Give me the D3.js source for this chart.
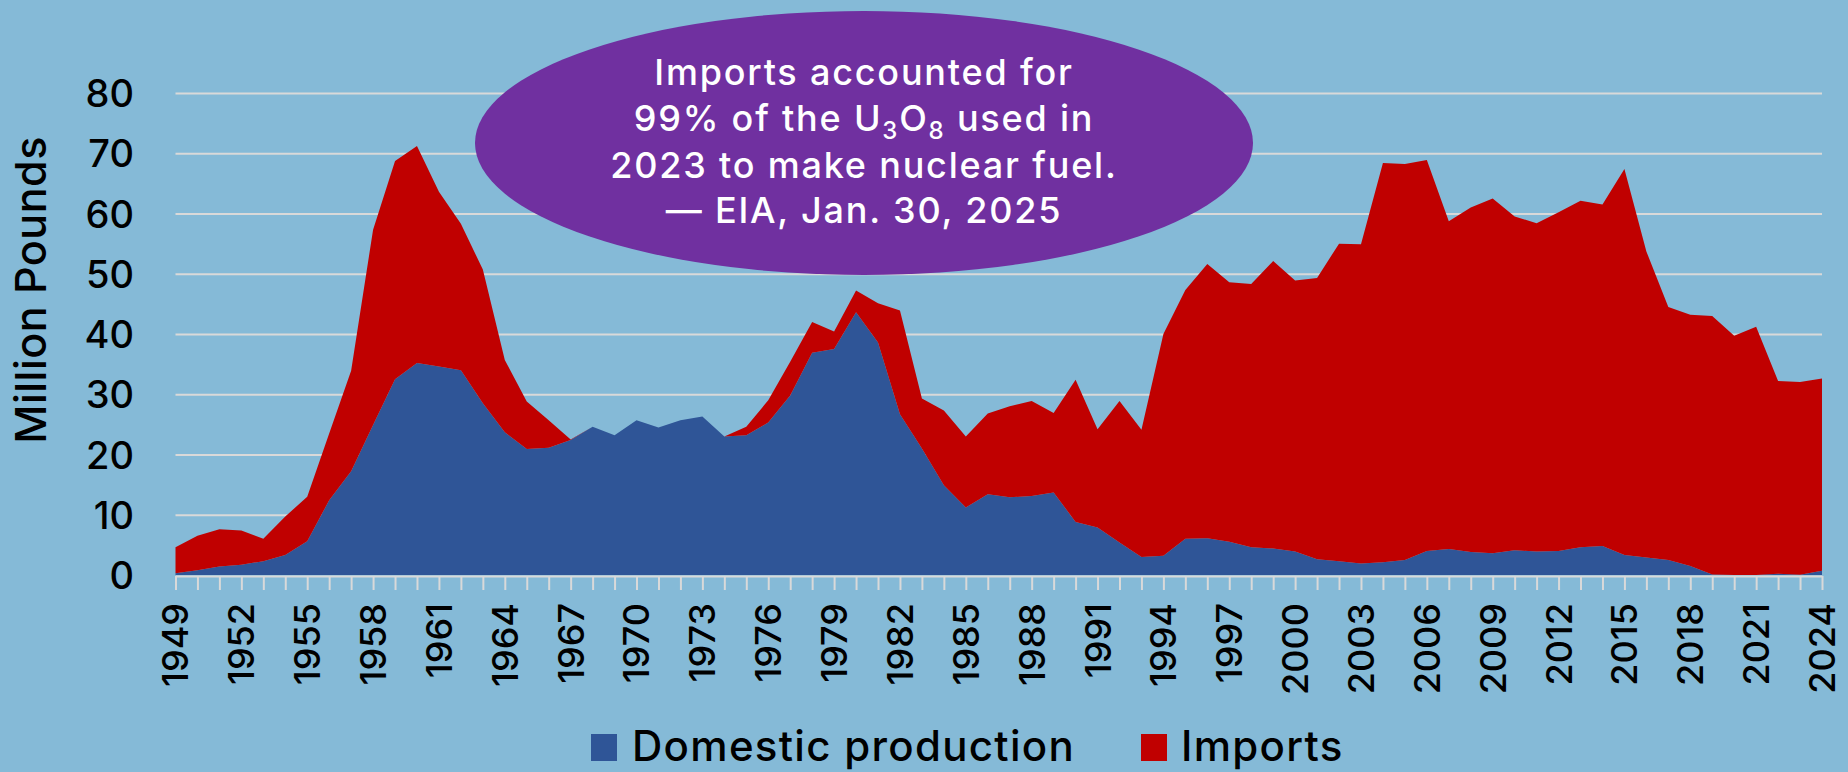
<!DOCTYPE html>
<html>
<head>
<meta charset="utf-8">
<script src="https://cdn.jsdelivr.net/npm/d3@7"></script>
<style>
  html, body { margin: 0; padding: 0; background: #85BAD7; }
  svg { display: block; }
</style>
</head>
<body>
<svg id="chart" width="1848" height="772"></svg>
<script>
// ---- Data (million pounds U3O8) ----
const years = d3.range(1949, 2025);
const domestic = [
  0.3, 0.8, 1.4, 1.7, 2.3, 3.3, 5.6, 12.4, 17.2, 24.9,
  32.5, 35.2, 34.6, 34.0, 28.5, 23.7, 20.9, 21.1, 22.4, 24.6,
  23.2, 25.7, 24.5, 25.7, 26.3, 23.0, 23.2, 25.3, 29.8, 36.9,
  37.5, 43.6, 38.6, 26.7, 21.0, 14.9, 11.2, 13.4, 12.9, 13.1,
  13.7, 8.8, 7.9, 5.4, 3.0, 3.2, 6.0, 6.1, 5.5, 4.6,
  4.4, 3.9, 2.6, 2.3, 1.9, 2.1, 2.5, 4.0, 4.3, 3.8,
  3.6, 4.1, 3.9, 4.0, 4.6, 4.8, 3.3, 2.9, 2.5, 1.5,
  0.1, 0.0, 0.0, 0.2, 0.05, 0.7
];
const imports = [
  4.3, 5.7, 6.2, 5.7, 3.7, 6.4, 7.4, 11.1, 16.7, 32.4,
  36.2, 36.0, 29.0, 24.3, 22.2, 12.0, 7.9, 4.6, 0.1, 0.0,
  0.0, 0.0, 0.0, 0.0, 0.0, 0.0, 1.4, 3.7, 5.6, 5.1,
  2.9, 3.6, 6.5, 17.2, 8.3, 12.4, 11.8, 13.4, 15.1, 15.8,
  13.2, 23.6, 16.3, 23.5, 21.1, 36.8, 41.3, 45.5, 43.1, 43.7,
  47.7, 45.0, 46.7, 52.7, 53.0, 66.3, 65.7, 64.9, 54.4, 57.2,
  58.9, 55.4, 54.5, 56.2, 57.5, 56.7, 64.1, 50.8, 42.0, 41.7,
  42.9, 39.7, 41.2, 32.0, 32.0, 31.9
];
const seriesNames = ["Domestic production", "Imports"];
const seriesColors = ["#2F5597", "#C00000"];
const yTicks = [0, 10, 20, 30, 40, 50, 60, 70, 80];
const xLabelYears = d3.range(1949, 2025, 3);
const yTitle = "Million Pounds";
const calloutLines = [
  [{t: "Imports accounted for"}],
  [{t: "99% of the U"}, {t: "3", sub: true}, {t: "O"}, {t: "8", sub: true}, {t: " used in"}],
  [{t: "2023 to make nuclear fuel."}],
  [{t: "\u2014 EIA, Jan. 30, 2025"}]
];

// ---- Layout ----
const FONT = "Inter, 'Open Sans', sans-serif";
const plot = {left: 175.5, right: 1822, top: 93, bottom: 575};
const svg = d3.select("#chart");
svg.append("rect").attr("width", 1848).attr("height", 772).attr("fill", "#85BAD7");

const x = d3.scalePoint().domain(years).range([plot.left, plot.right]);
const y = d3.scaleLinear().domain([0, 80]).range([plot.bottom, plot.top]);

// gridlines
svg.append("g")
  .attr("transform", `translate(${plot.left},0)`)
  .call(d3.axisLeft(y).tickValues(yTicks.filter(v => v > 0)).tickSize(-(plot.right - plot.left)).tickFormat(""))
  .call(g => g.select(".domain").remove())
  .call(g => g.selectAll("line").attr("stroke", "#D9D9D9").attr("stroke-width", 2));

// stacked areas
const table = years.map((yr, i) => ({year: yr, domestic: domestic[i], imports: imports[i]}));
const stack = d3.stack().keys(["domestic", "imports"]);
const layers = stack(table);
const area = d3.area()
  .x(d => x(d.data.year))
  .y0(d => y(d[0]))
  .y1(d => y(d[1]));
svg.append("g").selectAll("path")
  .data(layers)
  .join("path")
  .attr("d", area)
  .attr("fill", (d, i) => seriesColors[i]);

// x axis (ticks at every year)
const xAxisG = svg.append("g")
  .attr("transform", `translate(0,${plot.bottom + 1})`)
  .call(d3.axisBottom(x).tickValues(years).tickSize(14).tickSizeOuter(0).tickFormat(""));
xAxisG.select(".domain").attr("stroke", "#D9D9D9").attr("stroke-width", 2);
xAxisG.selectAll(".tick line").attr("stroke", "#D9D9D9").attr("stroke-width", 2);

// x labels, rotated
svg.append("g").selectAll("text")
  .data(xLabelYears)
  .join("text")
  .attr("transform", d => `translate(${x(d)},603) rotate(-90)`)
  .attr("text-anchor", "end")
  .attr("dy", "0.36em")
  .attr("font-family", FONT)
  .attr("font-weight", 500)
  .attr("font-size", 36)
  .attr("fill", "#000")
  .text(d => d);

// y labels
const yAxisG = svg.append("g")
  .attr("transform", `translate(134,0)`)
  .call(d3.axisLeft(y).tickValues(yTicks).tickSize(0).tickPadding(0));
yAxisG.select(".domain").remove();
yAxisG.selectAll("text")
  .attr("font-family", FONT)
  .attr("font-weight", 500)
  .attr("font-size", 38)
  .attr("fill", "#000")
  .attr("dy", "0.36em");

// y title
svg.append("text")
  .attr("transform", "translate(31,290) rotate(-90)")
  .attr("text-anchor", "middle")
  .attr("dy", "0.36em")
  .attr("font-family", FONT)
  .attr("font-weight", 500)
  .attr("font-size", 43)
  .attr("letter-spacing", 0.5)
  .attr("fill", "#000")
  .text(yTitle);

// legend
const legendItems = [
  {name: seriesNames[0], color: seriesColors[0], sx: 591, tx: 632},
  {name: seriesNames[1], color: seriesColors[1], sx: 1141, tx: 1181}
];
const lg = svg.append("g");
legendItems.forEach(it => {
  lg.append("rect").attr("x", it.sx).attr("y", 734).attr("width", 26).attr("height", 27).attr("fill", it.color);
  lg.append("text").attr("x", it.tx).attr("y", 761)
    .attr("font-family", FONT).attr("font-weight", 500).attr("font-size", 42)
    .attr("letter-spacing", 1.3).attr("fill", "#000")
    .text(it.name);
});

// callout ellipse
svg.append("ellipse")
  .attr("cx", 864).attr("cy", 143).attr("rx", 389).attr("ry", 132)
  .attr("fill", "#7030A0");
const baselines = [85, 131, 178, 223];
calloutLines.forEach((parts, li) => {
  const t = svg.append("text")
    .attr("x", 864).attr("y", baselines[li])
    .attr("text-anchor", "middle")
    .attr("font-family", FONT)
    .attr("font-weight", 500)
    .attr("font-size", 36)
    .attr("letter-spacing", 1.8)
    .attr("fill", "#fff");
  let shifted = false;
  parts.forEach(p => {
    const ts = t.append("tspan").text(p.t);
    if (p.sub && !shifted) { ts.attr("dy", 8).attr("font-size", 24); shifted = true; }
    else if (p.sub) { ts.attr("font-size", 24); }
    else if (shifted) { ts.attr("dy", -8); shifted = false; }
  });
});
</script>
</body>
</html>
